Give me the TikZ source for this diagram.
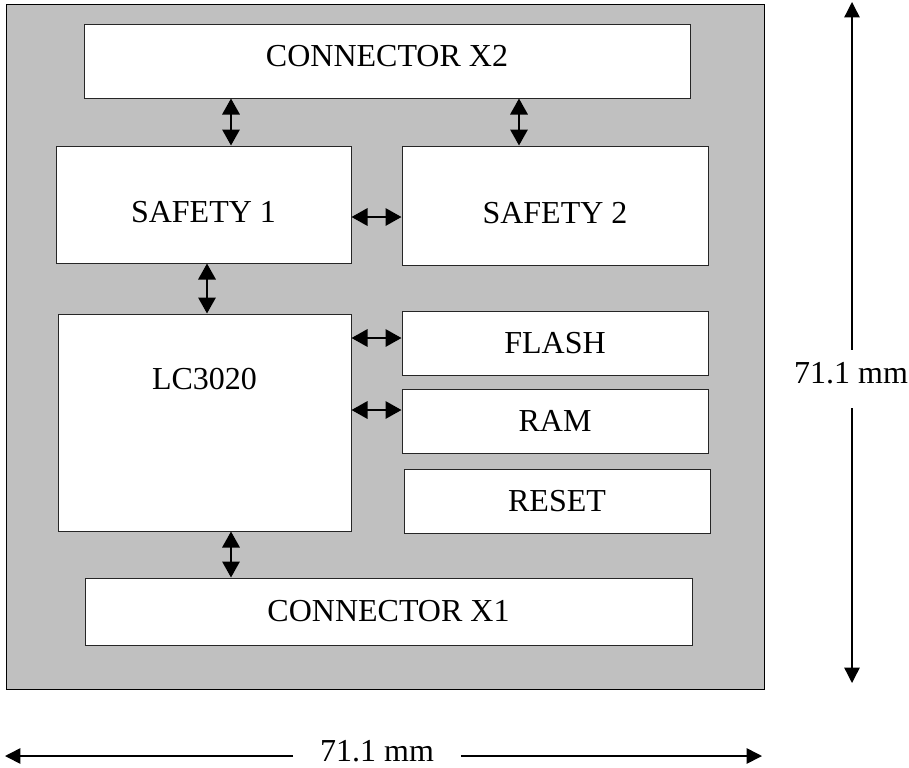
\documentclass[tikz,border=0pt]{standalone}
\usepackage{fontspec}
\setmainfont{Liberation Serif}
\usetikzlibrary{arrows.meta,fit}
\definecolor{boardgray}{RGB}{192,192,192}
\begin{document}
\begin{tikzpicture}[x=0.75pt,y=-0.75pt,
  every node/.style={font=\fontsize{24}{28}\selectfont},
  every label/.style={font=\fontsize{24}{28}\selectfont, inner sep=0pt},
  box/.style={draw=black!85, line width=0.75pt, fill=white, inner sep=0pt},
  txt/.style={label={[anchor=center]center:#1}},
  txtd/.style={label={[anchor=center, yshift=-5.5pt]center:#1}},
  txtu/.style={label={[anchor=center, yshift=4pt]center:#1}},
  bus/.style={{Triangle[length=12pt,width=13pt]}-{Triangle[length=12pt,width=13pt]}, line width=1.6pt},
  dimline/.style={line width=1pt, -{Triangle[length=11.5pt,width=11.5pt]}}
]
\useasboundingbox (0,0) rectangle (909,767);
% board
\node[draw=black, line width=0.75pt, fill=boardgray, inner sep=0pt, fit={(6,5) (764,689)}] (board) {};
% blocks
\node[box, fit={(84,25) (690,98)}, txtu={CONNECTOR X2}] (x2) {};
\node[box, fit={(56,146) (351,263)}, txtd={SAFETY 1}] (s1) {};
\node[box, fit={(402,146) (708,265)}, txtd={SAFETY 2}] (s2) {};
\node[box, fit={(58,314) (351,531)}, label={[anchor=center, yshift=-49.5pt]north:LC3020}] (lc) {};
\node[box, fit={(402,311) (708,375)}, txt={FLASH}] (flash) {};
\node[box, fit={(402,389) (708,453)}, txt={RAM}] (ram) {};
\node[box, fit={(404,469) (710,533)}, txt={RESET}] (reset) {};
\node[box, fit={(85,578) (692,645)}, txt={CONNECTOR X1}] (x1) {};
% helper positions
\coordinate (ax1) at (231,0);
\coordinate (ax2) at (519,0);
\coordinate (ax3) at (207,0);
\coordinate (ay1) at (0,217);
\coordinate (ay2) at (0,338);
\coordinate (ay3) at (0,410);
% buses
\draw[bus] (x2.south -| ax1) -- (s1.north -| ax1);
\draw[bus] (x2.south -| ax2) -- (s2.north -| ax2);
\draw[bus] (s1.east |- ay1) -- (s2.west |- ay1);
\draw[bus] (s1.south -| ax3) -- (lc.north -| ax3);
\draw[bus] (lc.east |- ay2) -- (flash.west |- ay2);
\draw[bus] (lc.east |- ay3) -- (ram.west |- ay3);
\draw[bus] (lc.south -| ax1) -- (x1.north -| ax1);
% vertical dimension
\coordinate (vt) at (852,2);
\coordinate (vb) at (852,683);
\node[anchor=base, text height=24.75pt, text depth=18.75pt, inner sep=0pt] (vlab) at (851,383) {71.1 mm};
\draw[dimline] (vt |- vlab.north) -- (vt);
\draw[dimline] (vt |- vlab.south) -- (vb);
% horizontal dimension
\coordinate (hl) at (5,756);
\coordinate (hr) at (762,756);
\node[anchor=base, inner xsep=20pt, inner ysep=0pt] (hlab) at (377,761) {71.1 mm};
\draw[dimline, line width=1.2pt] (hl -| hlab.west) -- (hl);
\draw[dimline, line width=1.2pt] (hl -| hlab.east) -- (hr);
\end{tikzpicture}
\end{document}
